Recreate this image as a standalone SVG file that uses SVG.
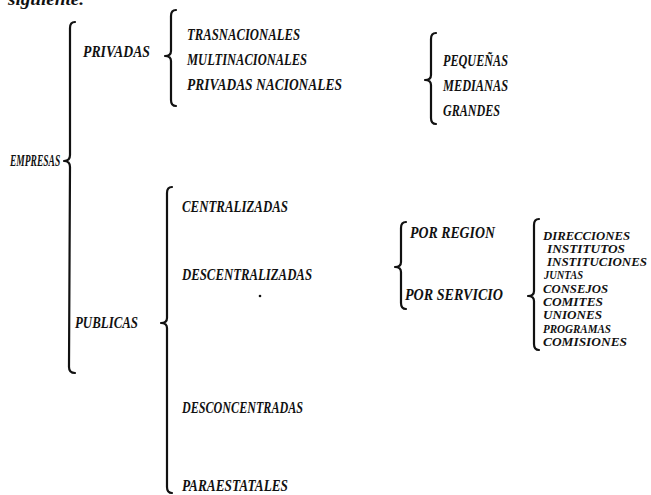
<svg xmlns="http://www.w3.org/2000/svg" width="651" height="495" viewBox="0 0 651 495">
<style>
.t{font-family:"Liberation Serif","DejaVu Serif",serif;font-style:italic;font-weight:bold;font-size:17px;fill:#111}
.s{font-family:"Liberation Serif","DejaVu Serif",serif;font-style:italic;font-weight:bold;font-size:12.5px;fill:#111}
.b{fill:none;stroke:#111;stroke-width:2.2;stroke-linecap:round;stroke-linejoin:round}
</style>
<rect width="651" height="495" fill="#fff"/>
<text class="t" x="8" y="5" textLength="76" lengthAdjust="spacingAndGlyphs">siguiente.</text>
<g id="connectors">
<path class="b" d="M75,22 Q70,22 70,28 L70,155 Q70,161 64,161 Q70,161 70,167 L69,367 Q69,373 75,373"/>
<path class="b" d="M176,10 Q171,10 171,16 L171,51 Q171,56 165,56 Q171,56 171,61 L171,100 Q171,106 176,106"/>
<path class="b" d="M436,33 Q431,33 431,39 L431,75 Q431,80 425,80 Q431,80 431,85 L431,118 Q431,124 436,124"/>
<path class="b" d="M172,187 Q167,187 167,193 L167,318 Q167,323 161,323 Q167,323 167,328 L167,487 Q167,493 172,493"/>
<path class="b" d="M406,222 Q401,222 401,228 L401,262 Q401,267 395,267 Q401,267 401,272 L401,303 Q401,309 406,309"/>
<path class="b" d="M539,219 Q534,219 534,225 L534,291 Q534,296 528,296 Q534,296 534,301 L534,344 Q534,350 539,350"/>
</g>
<g id="empresas"><text class="t" transform="translate(10,166) scale(0.56,1)" x="0" y="0">EMPRESAS</text></g>
<g id="privadas"><text class="t" x="83" y="57" textLength="67" lengthAdjust="spacingAndGlyphs">PRIVADAS</text></g>
<g id="trasnacionales"><text class="t" x="187" y="40" textLength="113" lengthAdjust="spacingAndGlyphs">TRASNACIONALES</text></g>
<g id="multinacionales"><text class="t" x="187" y="65" textLength="120" lengthAdjust="spacingAndGlyphs">MULTINACIONALES</text></g>
<g id="privadas-nacionales"><text class="t" x="187" y="90" textLength="155" lengthAdjust="spacingAndGlyphs">PRIVADAS NACIONALES</text></g>
<g id="pequenas"><text class="t" x="443" y="66" textLength="65" lengthAdjust="spacingAndGlyphs">PEQUEÑAS</text></g>
<g id="medianas"><text class="t" x="443" y="91" textLength="65" lengthAdjust="spacingAndGlyphs">MEDIANAS</text></g>
<g id="grandes"><text class="t" x="443" y="116" textLength="57" lengthAdjust="spacingAndGlyphs">GRANDES</text></g>
<g id="publicas"><text class="t" x="75" y="328" textLength="63" lengthAdjust="spacingAndGlyphs">PUBLICAS</text></g>
<g id="centralizadas"><text class="t" x="182" y="212" textLength="106" lengthAdjust="spacingAndGlyphs">CENTRALIZADAS</text></g>
<g id="descentralizadas"><text class="t" x="182" y="280" textLength="130" lengthAdjust="spacingAndGlyphs">DESCENTRALIZADAS</text></g>
<g id="desconcentradas"><text class="t" x="182" y="413" textLength="121" lengthAdjust="spacingAndGlyphs">DESCONCENTRADAS</text></g>
<g id="paraestatales"><text class="t" x="182" y="491" textLength="106" lengthAdjust="spacingAndGlyphs">PARAESTATALES</text></g>
<g id="por-region"><text class="t" x="410" y="238" textLength="85" lengthAdjust="spacingAndGlyphs">POR REGION</text></g>
<g id="por-servicio"><text class="t" x="405" y="300" textLength="98" lengthAdjust="spacingAndGlyphs">POR SERVICIO</text></g>
<g id="lista">
<text class="s" x="543" y="239.5" textLength="87" lengthAdjust="spacingAndGlyphs">DIRECCIONES</text>
<text class="s" x="547" y="252.5" textLength="78" lengthAdjust="spacingAndGlyphs">INSTITUTOS</text>
<text class="s" x="547" y="265.5" textLength="100" lengthAdjust="spacingAndGlyphs">INSTITUCIONES</text>
<text class="s" x="544" y="279" textLength="39" lengthAdjust="spacingAndGlyphs">JUNTAS</text>
<text class="s" x="543" y="292.5" textLength="65" lengthAdjust="spacingAndGlyphs">CONSEJOS</text>
<text class="s" x="543" y="305.5" textLength="60" lengthAdjust="spacingAndGlyphs">COMITES</text>
<text class="s" x="543" y="319" textLength="59" lengthAdjust="spacingAndGlyphs">UNIONES</text>
<text class="s" x="543" y="332.5" textLength="68" lengthAdjust="spacingAndGlyphs">PROGRAMAS</text>
<text class="s" x="543" y="345.5" textLength="84" lengthAdjust="spacingAndGlyphs">COMISIONES</text>
</g>
<circle cx="260" cy="296" r="1.3" fill="#111"/>
</svg>
